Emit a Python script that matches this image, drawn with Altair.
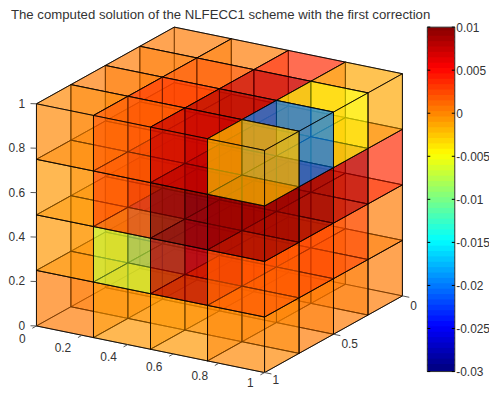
import altair as alt

# cell values, one table per z layer; rows are y cells from back to front, columns x cells from left to right
V_z0 = [[.0002, 0, 0, 0],
        [.0002, -.0005, 0, 0],
        [.0002, -.0005, 0, .0005],
        [.0002, -.0007, -.0007, -.0002]]
V_z1 = [[0, .0003, .0008, .0005],
        [-.0005, .002, .003, .002],
        [-.001, -.025, .005, .002],
        [-.001, -.007, .0075, .0015]]
V_z2 = [[.0003, .0003, .002, .0032],
        [0, .004, .008, .008],
        [0, .008, .009, .009],
        [-.0008, .002, .0095, .009]]
V_z3 = [[.0003, .0003, .0032, -.0015],
        [0, .0018, .007, -.0045],
        [.0003, .003, .008, -.02],
        [-.0005, .0015, .007, -.003]]
VOL = [V_z0, V_z1, V_z2, V_z3]
GRID = [0, .25, .5, .75, 1]

TITLE = "The computed solution of the NLFECC1 scheme with the first correction"
X_TICKS = [0, .2, .4, .6, .8, 1]
Y_TICKS = [0, .5, 1]
Z_TICKS = [0, .2, .4, .6, .8, 1]
CB_TICKS = [.01, .005, 0, -.005, -.01, -.015, -.02, -.025, -.03]
FONT = "Liberation Sans"
INK = "#333333"
ALPHA = .43

LEFT, TOP = 0, 14   # chart padding
OX, OY = 175.7 - 8 - LEFT, 249.7 - 8 - TOP


def proj(x, y, z):
    return [OX + 230 * x - 139 * y, OY + 47 * x + 77.3 * y - 224 * z]


def face(corners, v):
    ring = [proj(*c) for c in corners]
    ring.append(ring[0])
    return {"type": "Feature", "properties": {"v": v},
            "geometry": {"type": "Polygon", "coordinates": [ring]}}


quads = []
for i in range(5):
    for j in range(5):
        for k in range(5):
            v = VOL[min(k, 3)][min(j, 3)][min(i, 3)]
            x0, y0, z0 = GRID[i], GRID[j], GRID[k]
            if j < 4 and k < 4:
                y1, z1 = GRID[j + 1], GRID[k + 1]
                quads.append(face([(x0, y0, z0), (x0, y1, z0), (x0, y1, z1), (x0, y0, z1)], v))
            if i < 4 and k < 4:
                x1, z1 = GRID[i + 1], GRID[k + 1]
                quads.append(face([(x0, y0, z0), (x1, y0, z0), (x1, y0, z1), (x0, y0, z1)], v))
            if i < 4 and j < 4:
                x1, y1 = GRID[i + 1], GRID[j + 1]
                quads.append(face([(x0, y0, z0), (x1, y0, z0), (x1, y1, z0), (x0, y1, z0)], v))


def jet(n=64):
    out = []
    for m in range(n):
        t = (m + .5) / n * 4
        r = min(max(min(t - 1.5, 4.5 - t), 0), 1)
        g = min(max(min(t - .5, 3.5 - t), 0), 1)
        b = min(max(min(t + .5, 2.5 - t), 0), 1)
        out.append("#%02x%02x%02x" % (round(r * 255), round(g * 255), round(b * 255)))
    return out


JET = jet()
DOMAIN = [-.03, .01]
color = alt.Color("v:Q", scale=alt.Scale(type="quantize", domain=DOMAIN, range=JET), legend=None)
PROJ = dict(type="identity", scale=1, translate=[0, 0])

slices = alt.Chart(alt.Data(values=quads)).mark_geoshape(
    stroke="black", strokeWidth=.75, fillOpacity=ALPHA, strokeOpacity=1
).encode(color=alt.Color("properties.v:Q", scale=alt.Scale(type="quantize", domain=DOMAIN, range=JET), legend=None)).project(**PROJ)


def line(a, b):
    return {"type": "Feature", "properties": {},
            "geometry": {"type": "LineString", "coordinates": [proj(*a), proj(*b)]}}


tick_feats = []
for t in X_TICKS:
    tick_feats.append(line((t, 1, 0), (t, 1.03, 0)))
for t in Y_TICKS:
    tick_feats.append(line((1, t, 0), (1.03, t, 0)))
for t in Z_TICKS:
    tick_feats.append(line((0, 1, t), (-.02, 1.01, t)))
ticks = alt.Chart(alt.Data(values=tick_feats)).mark_geoshape(
    filled=False, stroke="#555555", strokeWidth=1).project(**PROJ)

right_labels = []
for t in X_TICKS:
    p = proj(t, 1, 0)
    right_labels.append({"t": f"{t:g}", "px": p[0] - 11, "py": p[1] + (10.5 if t == 1 else 13)})
for t in Z_TICKS:
    p = proj(0, 1, t)
    right_labels.append({"t": f"{t:g}", "px": p[0] - 11.5, "py": p[1]})
left_labels = []
for t in Y_TICKS:
    p = proj(1, t, 0)
    left_labels.append({"t": f"{t:g}", "px": p[0] + 8, "py": p[1] + (8 if t == 1 else 10)})
texts_r = alt.Chart(alt.Data(values=right_labels)).mark_text(
    font=FONT, fontSize=12, color=INK, align="right", baseline="middle"
).encode(longitude="px:Q", latitude="py:Q", text="t:N").project(**PROJ)
texts_l = alt.Chart(alt.Data(values=left_labels)).mark_text(
    font=FONT, fontSize=12, color=INK, align="left", baseline="middle"
).encode(longitude="px:Q", latitude="py:Q", text="t:N").project(**PROJ)

STEP = (DOMAIN[1] - DOMAIN[0]) / 64
bands = [{"lo": DOMAIN[0] + STEP * m,
          "hi": min(DOMAIN[0] + STEP * (m + 1.4), DOMAIN[1]),
          "v": DOMAIN[0] + STEP * (m + .5)} for m in range(64)]
BAR_L, BAR_R = 427.3 - 8 + 3.5, 455 - 8 + 3.5
BAR_T, BAR_B = 25.7 - 8 - TOP, 373 - 8 - TOP
yscale = alt.Scale(domain=DOMAIN, range=[BAR_B, BAR_T], nice=False, zero=False)
bar = alt.Chart(alt.Data(values=bands)).mark_rect().encode(
    x=alt.value(BAR_L), x2=alt.value(BAR_R),
    y=alt.Y("lo:Q", scale=yscale, title=None,
            axis=alt.Axis(orient="right", offset=BAR_R - 481, values=CB_TICKS, ticks=False, domain=False,
                          grid=False, labelFont=FONT, labelFontSize=12, labelColor=INK, labelPadding=1,
                          labelFlush=False, labelOverlap=False, labelExpr="'' + datum.value")),
    y2="hi:Q", color=color, order=alt.Order("v:Q", sort="descending"))
frame = alt.Chart(alt.Data(values=[{"a": DOMAIN[0], "b": DOMAIN[1]}])).mark_rect(
    fill="transparent", stroke="#333333", strokeWidth=1
).encode(x=alt.value(BAR_L), x2=alt.value(BAR_R), y=alt.Y("a:Q", scale=yscale), y2="b:Q")
cb_t = alt.Chart(alt.Data(values=[{"v": v} for v in CB_TICKS]))
cb_left = cb_t.mark_rule(color="black", strokeWidth=1).encode(
    x=alt.value(BAR_L), x2=alt.value(BAR_L + 3), y=alt.Y("v:Q", scale=yscale))
cb_right = cb_t.mark_rule(color="black", strokeWidth=1).encode(
    x=alt.value(BAR_R - 3), x2=alt.value(BAR_R), y=alt.Y("v:Q", scale=yscale))

chart = alt.layer(slices, ticks, texts_r, texts_l, bar, frame, cb_left, cb_right).properties(
    width=481, height=381 - TOP,
    padding={"left": LEFT, "top": TOP, "right": 4, "bottom": 0},
    autosize=alt.AutoSizeParams(type="none"),
    title=alt.TitleParams(TITLE, anchor="start", frame="group", font=FONT, fontSize=13.3, fontWeight="normal",
                          color=INK, offset=0, dx=3),
).resolve_scale(color="shared").configure_view(stroke=None)

chart.save("out.html", embed_options={"renderer": "svg", "actions": False})
